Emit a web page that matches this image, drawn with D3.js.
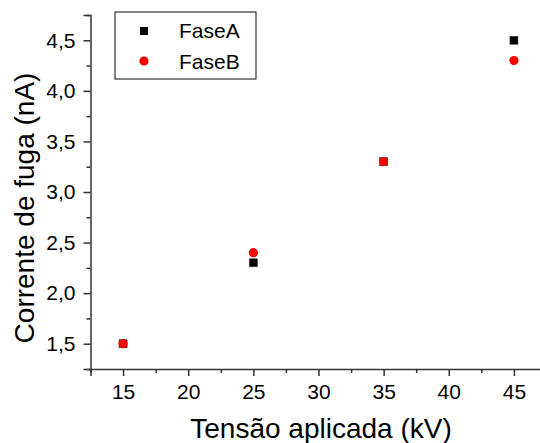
<!DOCTYPE html>
<html>
<head>
<meta charset="utf-8">
<script src="https://cdn.jsdelivr.net/npm/d3@7"></script>
<style>
  body { margin: 0; background: #fff; }
  text { font-family: "Liberation Sans", Arial, sans-serif; fill: #000; }
</style>
</head>
<body>
<script>
var tensao = [15, 25, 35, 45];
var faseA = [1.5, 2.3, 3.3, 4.5];
var faseB = [1.5, 2.4, 3.3, 4.3];
var xTicks = [15, 20, 25, 30, 35, 40, 45];
var yTicks = [1.5, 2.0, 2.5, 3.0, 3.5, 4.0, 4.5];

var width = 540, height = 443;
var margin = {left: 90.5, top: 15, bottom: 74};

var svg = d3.select('body').append('svg')
    .attr('width', width)
    .attr('height', height);

var x = d3.scaleLinear().domain([12.5, 47.5]).range([margin.left, margin.left + 456]);
var y = d3.scaleLinear().domain([1.25, 4.75]).range([369, margin.top]);

var fmt = function(d) { return d3.format('.1f')(d).replace('.', ','); };

// minor ticks
var xMinor = d3.range(12.5, 48, 2.5).filter(function(d) { return xTicks.indexOf(d) < 0; });
var yMinor = d3.range(1.25, 4.8, 0.25).filter(function(d) { return yTicks.indexOf(+d.toFixed(2)) < 0; });

var xAxis = svg.append('g')
    .attr('transform', 'translate(0,369)')
    .call(d3.axisBottom(x).tickValues(xTicks).tickSize(7).tickPadding(8));
svg.append('g')
    .attr('transform', 'translate(0,369)')
    .call(d3.axisBottom(x).tickValues(xMinor).tickSize(4).tickFormat(''))
    .select('.domain').remove();

var yAxis = svg.append('g')
    .attr('transform', 'translate(' + margin.left + ',0)')
    .call(d3.axisLeft(y).tickValues(yTicks).tickFormat(fmt).tickSize(7).tickPadding(8));
svg.append('g')
    .attr('transform', 'translate(' + margin.left + ',0)')
    .call(d3.axisLeft(y).tickValues(yMinor).tickSize(4).tickFormat(''))
    .select('.domain').remove();

svg.selectAll('.domain').attr('stroke', '#333').attr('stroke-width', 1.5);
svg.selectAll('.tick line').attr('stroke', '#333').attr('stroke-width', 1.5);
svg.selectAll('.tick text')
    .style('font-family', '"Liberation Sans", Arial, sans-serif')
    .style('font-size', '21px')
    .attr('fill', '#000');

// axis titles
svg.append('text')
    .attr('x', 321)
    .attr('y', 438)
    .attr('text-anchor', 'middle')
    .style('font-size', '28px')
    .text('Tensão aplicada (kV)');

svg.append('text')
    .attr('transform', 'translate(34,208) rotate(-90)')
    .attr('text-anchor', 'middle')
    .style('font-size', '28px')
    .text('Corrente de fuga (nA)');

// points
var dataA = tensao.map(function(t, i) { return {x: t, y: faseA[i]}; });
var dataB = tensao.map(function(t, i) { return {x: t, y: faseB[i]}; });

svg.append('g').selectAll('rect')
    .data(dataA)
    .enter().append('rect')
    .attr('x', function(d) { return x(d.x) - 4; })
    .attr('y', function(d) { return y(d.y) - 4; })
    .attr('width', 8)
    .attr('height', 8)
    .attr('fill', '#000')
    .attr('stroke', '#444')
    .attr('stroke-width', 0.6);

svg.append('g').selectAll('circle')
    .data(dataB)
    .enter().append('circle')
    .attr('cx', function(d) { return x(d.x); })
    .attr('cy', function(d) { return y(d.y); })
    .attr('r', 4.6)
    .attr('fill', '#ff0000');

// legend
var legend = svg.append('g');
legend.append('rect')
    .attr('x', 115)
    .attr('y', 12)
    .attr('width', 141)
    .attr('height', 67)
    .attr('fill', '#fff')
    .attr('stroke', '#333')
    .attr('stroke-width', 1.2);
legend.append('rect')
    .attr('x', 140).attr('y', 27)
    .attr('width', 8).attr('height', 8)
    .attr('fill', '#000');
legend.append('circle')
    .attr('cx', 144).attr('cy', 61)
    .attr('r', 4.6)
    .attr('fill', '#ff0000');
legend.append('text')
    .attr('x', 179).attr('y', 38)
    .style('font-size', '21px')
    .text('FaseA');
legend.append('text')
    .attr('x', 179).attr('y', 69)
    .style('font-size', '21px')
    .text('FaseB');
</script>
</body>
</html>
